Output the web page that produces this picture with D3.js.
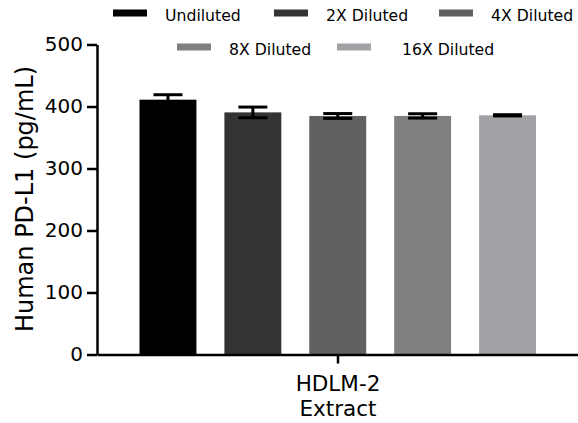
<!DOCTYPE html>
<html>
<head>
<meta charset="utf-8">
<script src="https://cdn.jsdelivr.net/npm/d3@7"></script>
<style>
  html, body { margin: 0; padding: 0; background: #fff; }
  svg { display: block; font-family: "DejaVu Sans", sans-serif; }
</style>
</head>
<body>
<svg id="chart" width="578" height="423"></svg>
<script>
// ---- data ----
const categories = ["HDLM-2 Extract"];
const categoryLines = ["HDLM-2", "Extract"];
const seriesNames = ["Undiluted", "2X Diluted", "4X Diluted", "8X Diluted", "16X Diluted"];
const seriesMeans = [411, 390.5, 384.7, 384.8, 385.8];
const seriesErrors = [8, 8.6, 3.9, 3.5, 1];
const seriesColors = ["#000000", "#333333", "#616161", "#808080", "#a2a1a5"];
const yTicks = [0, 100, 200, 300, 400, 500];
const yLabel = "Human PD-L1 (pg/mL)";

// ---- layout ----
const svg = d3.select("#chart");
const y = d3.scaleLinear().domain([0, 500]).range([354.5, 44.5]);
const xGroup = d3.scaleBand().domain(categories).range([97, 579]);
const xBar = d3.scaleBand().domain(seriesNames).range([139.5, 536]).paddingInner(28 / 85).paddingOuter(0);

// bars
svg.append("g").selectAll("rect")
  .data(seriesNames)
  .join("rect")
  .attr("x", d => xBar(d))
  .attr("width", xBar.bandwidth())
  .attr("y", (d, i) => y(seriesMeans[i]))
  .attr("height", (d, i) => y(0) - y(seriesMeans[i]))
  .attr("fill", (d, i) => seriesColors[i]);

// error bars
const eb = svg.append("g").attr("stroke", "#000").attr("stroke-width", 3);
seriesNames.forEach((d, i) => {
  const cx = xBar(d) + xBar.bandwidth() / 2;
  const hi = y(seriesMeans[i] + seriesErrors[i]);
  const lo = y(seriesMeans[i] - seriesErrors[i]);
  const cw = 14.5;
  eb.append("line").attr("x1", cx).attr("x2", cx).attr("y1", hi).attr("y2", lo);
  eb.append("line").attr("x1", cx - cw).attr("x2", cx + cw).attr("y1", hi).attr("y2", hi);
  eb.append("line").attr("x1", cx - cw).attr("x2", cx + cw).attr("y1", lo).attr("y2", lo);
});

// y axis
const yAxis = svg.append("g")
  .attr("transform", "translate(97,0)")
  .call(d3.axisLeft(y).tickValues(yTicks).tickSize(10).tickSizeOuter(0).tickPadding(4));
yAxis.select(".domain").attr("stroke", "#000").attr("stroke-width", 2.5);
yAxis.selectAll(".tick line").attr("stroke", "#000").attr("stroke-width", 2.5);
yAxis.selectAll(".tick text")
  .attr("font-size", 20).attr("font-family", "DejaVu Sans, sans-serif").attr("fill", "#000");

// x axis
const xAxis = svg.append("g")
  .attr("transform", "translate(0,354.5)")
  .call(d3.axisBottom(xGroup).tickSize(9).tickSizeOuter(0).tickFormat(""));
xAxis.select(".domain").attr("stroke", "#000").attr("stroke-width", 2.5);
xAxis.selectAll(".tick line").attr("stroke", "#000").attr("stroke-width", 2.5);

const cxCat = xGroup(categories[0]) + xGroup.bandwidth() / 2;
svg.append("g").selectAll("text")
  .data(categoryLines)
  .join("text")
  .attr("x", cxCat)
  .attr("y", (d, i) => 391 + i * 25)
  .attr("text-anchor", "middle")
  .attr("font-size", 21.5)
  .attr("fill", "#000")
  .text(d => d);

// y label
svg.append("text")
  .attr("transform", "translate(33,199) rotate(-90)")
  .attr("text-anchor", "middle")
  .attr("font-size", 24)
  .attr("fill", "#000")
  .text(yLabel);

// legend
const legendSwatchX = [113, 274, 439, 177, 337];
const legendTextX = [165, 326, 491, 229, 402];
const legendRowY = [13, 47, 13, 47, 47];
const legendRow = [0, 0, 0, 1, 1];
const rowY = [13, 47];
const leg = svg.append("g");
seriesNames.forEach((d, i) => {
  const ry = rowY[legendRow[i]];
  leg.append("rect")
    .attr("x", legendSwatchX[i]).attr("y", ry - 3.5)
    .attr("width", 34).attr("height", 7)
    .attr("fill", seriesColors[i]);
  leg.append("text")
    .attr("x", legendTextX[i]).attr("y", ry + 8)
    .attr("font-size", 15.7)
    .attr("fill", "#000")
    .text(d);
});
</script>
</body>
</html>
